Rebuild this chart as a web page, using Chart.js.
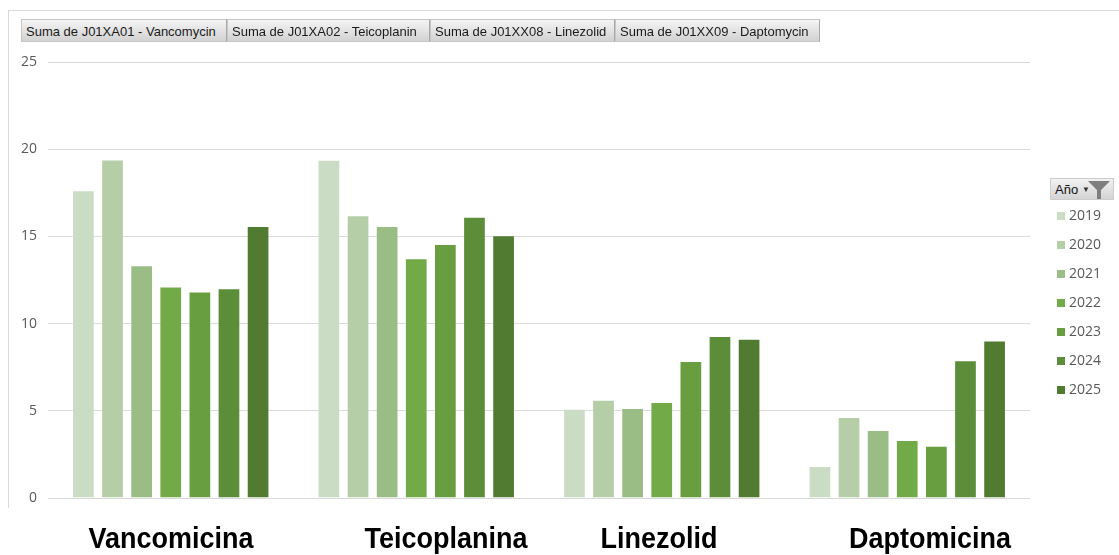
<!DOCTYPE html>
<html>
<head>
<meta charset="utf-8">
<script src="https://cdn.jsdelivr.net/npm/chart.js@4.4.1/dist/chart.umd.min.js"></script>
<style>
  html, body { margin: 0; padding: 0; background: #fff; }
  #wrap { position: relative; width: 1119px; height: 555px; overflow: hidden; font-family: "Liberation Sans", Arial, sans-serif; }
  #frame { position: absolute; left: 8px; top: 10px; width: 1120px; height: 497px; border-left: 1px solid #d9d9d9; border-top: 1px solid #d9d9d9; }
  #chart { position: absolute; left: 0; top: 0; }
  .fieldbar { position: absolute; left: 21px; top: 19px; display: flex; }
  .fieldbtn { height: 23px; line-height: 23px; padding: 0 0 0 4px; font-size: 13px; color: #1a1a1a;
    background: linear-gradient(#f4f4f4, #d2d2d2); border: 1px solid #c6c6c6; border-right: 1px solid #a8a8a8; white-space: nowrap; box-sizing: border-box; overflow: hidden; }
  #legend { position: absolute; left: 1050px; top: 178px; width: 69px; }
  .lghead { width: 64px; height: 22px; background: linear-gradient(#f2f2f2, #d4d4d4); border: 1px solid #cdcdcd; position: relative;
    font-size: 13px; line-height: 22px; color: #111; padding-left: 4px; box-sizing: border-box; }
  .lghead .arr { position: absolute; left: 31px; top: 0; font-size: 8px; color: #333; }
  .lghead svg { position: absolute; right: 2px; top: 1px; }
  .lgitem { height: 29px; line-height: 29px; font-family: "Open Sans", sans-serif; font-size: 14px; color: #595959; padding-left: 7px; white-space: nowrap; }
  .lgitem i { display: inline-block; width: 8px; height: 8px; margin-right: 4px; vertical-align: 0px; }
  .catlbl { position: absolute; top: 524px; line-height: 29px; font-family: "Liberation Sans", Arial, sans-serif; font-weight: bold; font-size: 29px; color: #000; transform: translateX(-50%) scaleX(0.93); white-space: nowrap; }
</style>
</head>
<body>
<div id="wrap">
  <div id="frame"></div>
  <canvas id="chart" width="1119" height="555"></canvas>
  <div class="fieldbar" id="fields"></div>
  <div id="legend"></div>
</div>
<script>
// datos
const categories = ['Vancomicina', 'Teicoplanina', 'Linezolid', 'Daptomicina'];
const fieldButtons = ['Suma de J01XA01 - Vancomycin', 'Suma de J01XA02 - Teicoplanin', 'Suma de J01XX08 - Linezolid', 'Suma de J01XX09 - Daptomycin'];
const fieldWidths = [206, 203, 185, 205];
const years = ['2019', '2020', '2021', '2022', '2023', '2024', '2025'];
const colors = ['#cbdcc5', '#b5cea7', '#99bd85', '#71aa47', '#689d40', '#5c8d39', '#507b31'];
const v2019 = [17.65, 19.39, 5.12, 1.84];
const v2020 = [19.41, 16.21, 5.64, 4.64];
const v2021 = [13.35, 15.59, 5.16, 3.90];
const v2022 = [12.13, 13.75, 5.51, 3.32];
const v2023 = [11.84, 14.56, 7.85, 2.99];
const v2024 = [12.03, 16.13, 9.29, 7.90];
const v2025 = [15.60, 15.07, 9.13, 9.03];
const yTicks = [0, 5, 10, 15, 20, 25];
const labelCenters = [171, 446, 659, 930];

const series = [v2019, v2020, v2021, v2022, v2023, v2024, v2025];

// botones de campo
const fb = document.getElementById('fields');
fieldButtons.forEach((t, i) => {
  const d = document.createElement('div');
  d.className = 'fieldbtn';
  d.style.width = fieldWidths[i] + 'px';
  d.textContent = t;
  fb.appendChild(d);
});

// leyenda
const lg = document.getElementById('legend');
lg.innerHTML = '<div class="lghead">Año<span class="arr">&#9660;</span>' +
  '<svg width="24" height="20" viewBox="0 0 24 20"><path d="M1 1 H23 L14 10 V19 H10 V10 Z" fill="#7f7f7f"/></svg></div>';
years.forEach((y, i) => {
  const d = document.createElement('div');
  d.className = 'lgitem';
  d.innerHTML = '<i style="background:' + colors[i] + '"></i>' + y;
  lg.appendChild(d);
});

// etiquetas de categoría
categories.forEach((c, i) => {
  const d = document.createElement('div');
  d.className = 'catlbl';
  d.style.left = labelCenters[i] + 'px';
  d.textContent = c;
  document.getElementById('wrap').appendChild(d);
});

new Chart(document.getElementById('chart').getContext('2d'), {
  type: 'bar',
  data: {
    labels: categories,
    datasets: years.map((y, i) => ({
      label: y,
      data: series[i],
      backgroundColor: colors[i],
      borderColor: 'rgba(255,255,255,0.35)',
      borderWidth: 1,
      categoryPercentage: 0.83,
      barPercentage: 0.78
    }))
  },
  options: {
    responsive: false,
    animation: false,
    layout: { padding: { left: 0, right: 89, top: 62, bottom: 57 } },
    plugins: { legend: { display: false }, tooltip: { enabled: false } },
    scales: {
      x: { display: false },
      y: {
        min: 0, max: 25,
        afterFit: s => { s.width = 48; },
        afterBuildTicks: s => { s.ticks = yTicks.map(v => ({ value: v })); },
        border: { display: false },
        grid: { color: '#d9d9d9', lineWidth: 1, drawTicks: false },
        ticks: { color: '#595959', padding: 11, font: { family: 'Open Sans', size: 14 } }
      }
    }
  }
});
</script>
</body>
</html>
